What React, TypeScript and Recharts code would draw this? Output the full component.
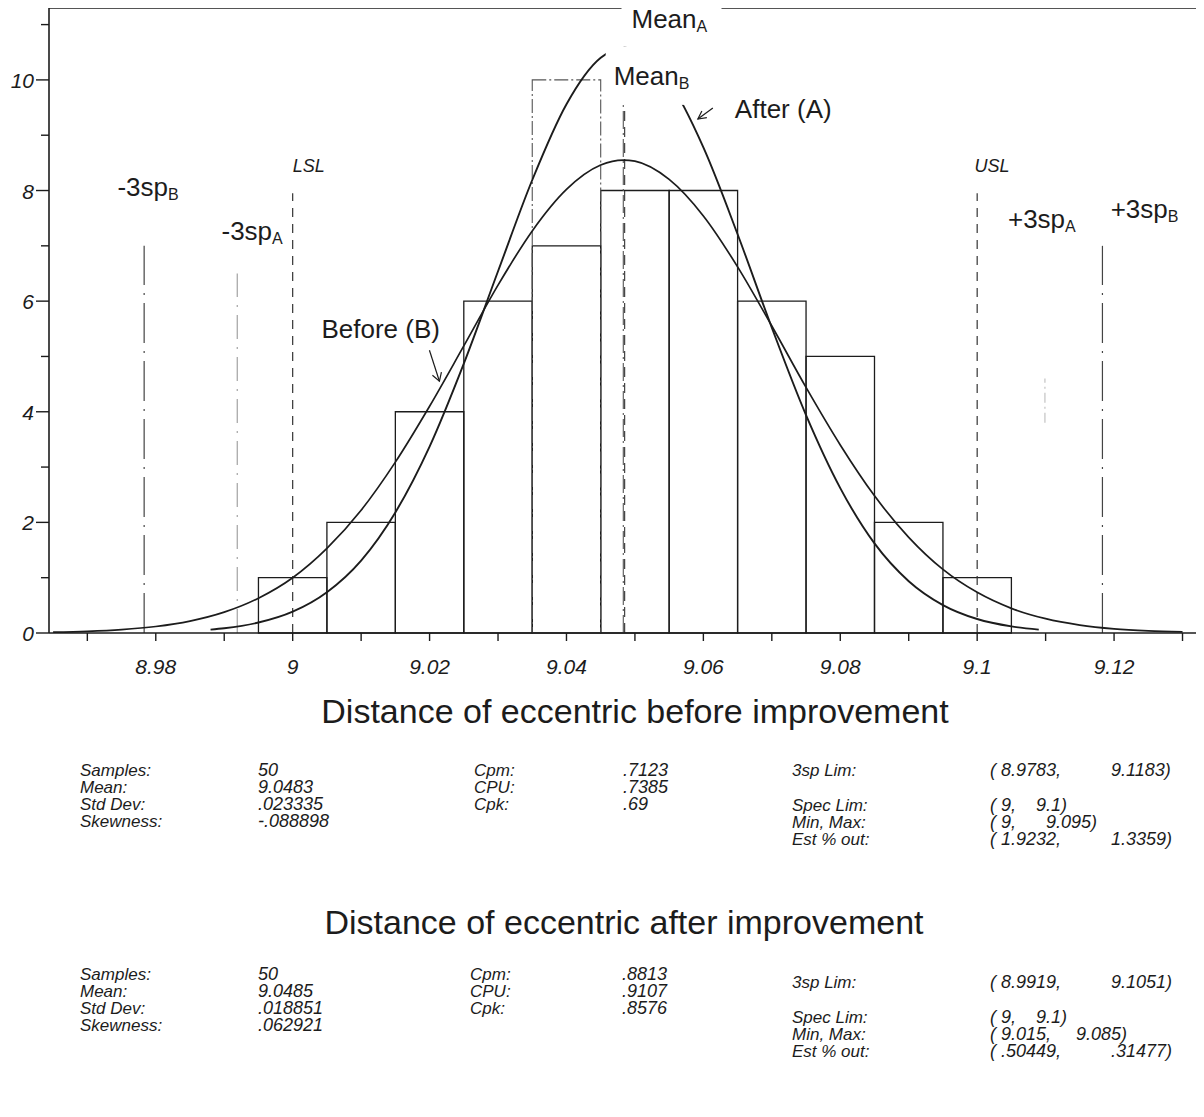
import React from 'react';
import {
  ComposedChart,
  Line,
  XAxis,
  YAxis,
  ReferenceArea,
  ReferenceLine,
  ReferenceDot,
} from 'recharts';

// ---------- data ----------
const X_MIN = 8.9644;
const X_MAX = 9.1327;
const Y_MAX = 11.3;

const xTickValues = [8.97, 8.98, 8.99, 9.0, 9.01, 9.02, 9.03, 9.04, 9.05, 9.06, 9.07, 9.08, 9.09, 9.1, 9.11, 9.12, 9.13];
const xTickLabels = ['', '8.98', '', '9', '', '9.02', '', '9.04', '', '9.06', '', '9.08', '', '9.1', '', '9.12', ''];
const yTickValues = [0, 1, 2, 3, 4, 5, 6, 7, 8, 9, 10, 11];
const yTickLabels = ['0', '', '2', '', '4', '', '6', '', '8', '', '10', ''];

// histogram "before" (B)
const binStartsBefore = [8.995, 9.005, 9.015, 9.025, 9.035, 9.045, 9.055, 9.065, 9.075, 9.085, 9.095];
const countsBefore = [1, 2, 4, 6, 7, 8, 8, 6, 5, 2, 1];
const BIN_WIDTH = 0.01;

// histogram "after" (A): the visible dash-dot bar
const binStartsAfter = [9.035];
const countsAfter = [10];

// fitted curve "before"
const beforeCurveX = [8.965, 8.97, 8.975, 8.98, 8.985, 8.99, 8.995, 9.0, 9.005, 9.01, 9.015, 9.02, 9.025, 9.03, 9.035, 9.04, 9.045, 9.0483, 9.05, 9.055, 9.06, 9.065, 9.07, 9.075, 9.08, 9.085, 9.09, 9.095, 9.1, 9.105, 9.11, 9.115, 9.12, 9.125, 9.13];
const beforeCurveY = [0.015, 0.031, 0.062, 0.118, 0.216, 0.377, 0.63, 1.0, 1.53, 2.22, 3.09, 4.1, 5.19, 6.29, 7.27, 8.02, 8.46, 8.55, 8.53, 8.2, 7.54, 6.62, 5.55, 4.44, 3.4, 2.48, 1.73, 1.15, 0.735, 0.446, 0.259, 0.144, 0.076, 0.039, 0.019];

// fitted curve "after"
const afterCurveX = [8.988, 8.99, 8.995, 9.0, 9.005, 9.01, 9.015, 9.02, 9.025, 9.03, 9.035, 9.04, 9.045, 9.0485, 9.05, 9.055, 9.06, 9.065, 9.07, 9.075, 9.08, 9.085, 9.09, 9.095, 9.1, 9.105, 9.109];
const afterCurveY = [0.061, 0.086, 0.189, 0.386, 0.738, 1.31, 2.18, 3.37, 4.87, 6.54, 8.19, 9.56, 10.4, 10.58, 10.55, 9.97, 8.78, 7.21, 5.52, 3.94, 2.62, 1.62, 0.937, 0.505, 0.253, 0.119, 0.061];

// vertical reference lines
const meanB = 9.0483;
const meanA = 9.0485;
const LSL = 9.0;
const USL = 9.1;
const minus3spB = 8.9783;
const plus3spB = 9.1183;
const minus3spA = 8.9919;
const plus3spA = 9.1099;

// stats tables
const titleBefore = 'Distance of eccentric before improvement';
const titleAfter = 'Distance of eccentric after improvement';
const statsBeforeLeft = [['Samples:', '50'], ['Mean:', '9.0483'], ['Std Dev:', '.023335'], ['Skewness:', '-.088898']];
const statsBeforeMid = [['Cpm:', '.7123'], ['CPU:', '.7385'], ['Cpk:', '.69']];
const statsBeforeLim = ['3sp Lim:', '( 8.9783,', '9.1183)'];
const statsBeforeRight = [['Spec Lim:', '( 9,', '9.1)'], ['Min, Max:', '( 9,', '9.095)'], ['Est % out:', '( 1.9232,', '1.3359)']];
const statsAfterLeft = [['Samples:', '50'], ['Mean:', '9.0485'], ['Std Dev:', '.018851'], ['Skewness:', '.062921']];
const statsAfterMid = [['Cpm:', '.8813'], ['CPU:', '.9107'], ['Cpk:', '.8576']];
const statsAfterLim = ['3sp Lim:', '( 8.9919,', '9.1051)'];
const statsAfterRight = [['Spec Lim:', '( 9,', '9.1)'], ['Min, Max:', '( 9.015,', '9.085)'], ['Est % out:', '( .50449,', '.31477)']];

// ---------- helpers ----------
const beforeCurve = beforeCurveX.map((x, i) => ({ x, y: beforeCurveY[i] }));
const afterCurve = afterCurveX.map((x, i) => ({ x, y: afterCurveY[i] }));

const INK = '#1c1c1c';
const FONT = '"Liberation Sans", Arial, sans-serif';

const XTick = (props: any) => {
  const { x, y, payload } = props;
  const idx = xTickValues.findIndex((v) => Math.abs(v - payload.value) < 1e-6);
  const label = idx >= 0 ? xTickLabels[idx] : '';
  return (
    <g>
      <line x1={x} y1={y} x2={x} y2={y + 8} stroke={INK} strokeWidth={1.4} />
      {label && (
        <text x={x} y={y + 41} textAnchor="middle" fontFamily={FONT} fontStyle="italic" fontSize={21} fill={INK}>
          {label}
        </text>
      )}
    </g>
  );
};

const YTick = (props: any) => {
  const { x, y, payload } = props;
  const idx = yTickValues.findIndex((v) => Math.abs(v - payload.value) < 1e-6);
  const label = idx >= 0 ? yTickLabels[idx] : '';
  const len = label ? 13 : 8;
  return (
    <g>
      <line x1={x - len} y1={y} x2={x} y2={y} stroke={INK} strokeWidth={1.4} />
      {label && (
        <text x={x - 15} y={y + 8} textAnchor="end" fontFamily={FONT} fontStyle="italic" fontSize={21} fill={INK}>
          {label}
        </text>
      )}
    </g>
  );
};

type LabelSpec = {
  x: number;
  y: number;
  main: string;
  sub?: string;
  size?: number;
  italic?: boolean;
  box?: [number, number, number, number];
  arrow?: 'after' | 'before';
};

const labels: LabelSpec[] = [
  { x: 9.0495, y: 10.94, main: 'Mean', sub: 'A', box: [-10, -34, 100, 44] },
  { x: 9.0469, y: 9.91, main: 'Mean', sub: 'B', box: [-8, -38, 96, 58] },
  { x: 9.0646, y: 9.31, main: 'After (A)', arrow: 'after' },
  { x: 9.0042, y: 5.33, main: 'Before (B)', arrow: 'before' },
  { x: 9.0, y: 8.33, main: 'LSL', size: 18, italic: true },
  { x: 9.0996, y: 8.33, main: 'USL', size: 18, italic: true },
  { x: 8.9744, y: 7.9, main: '-3sp', sub: 'B' },
  { x: 8.9896, y: 7.11, main: '-3sp', sub: 'A' },
  { x: 9.1045, y: 7.32, main: '+3sp', sub: 'A' },
  { x: 9.1195, y: 7.5, main: '+3sp', sub: 'B' },
];

const makeShape = (spec: LabelSpec) => (props: any) => {
  const cx = props.cx;
  const cy = props.cy;
  if (cx == null || cy == null) return <g />;
  const size = spec.size ?? 26;
  return (
    <g>
      {spec.box && (
        <rect x={cx + spec.box[0]} y={cy + spec.box[1]} width={spec.box[2]} height={spec.box[3]} fill="#fff" />
      )}
      {spec.main && (
        <text x={cx} y={cy} fontFamily={FONT} fontSize={size} fontStyle={spec.italic ? 'italic' : 'normal'} fill={INK}>
          {spec.main}
          {spec.sub && (
            <tspan fontSize={16} dy={4}>
              {spec.sub}
            </tspan>
          )}
        </text>
      )}
      {spec.arrow === 'after' && (
        <g stroke={INK} strokeWidth={1.2} fill="none">
          <line x1={cx - 22} y1={cy - 10} x2={cx - 37} y2={cy + 1} />
          <polyline points={`${cx - 28},${cy - 0.5} ${cx - 37},${cy + 1} ${cx - 33},${cy - 7}`} />
        </g>
      )}
      {spec.arrow === 'before' && (
        <g stroke={INK} strokeWidth={1.2} fill="none">
          <line x1={cx + 108} y1={cy + 12} x2={cx + 118} y2={cy + 43} />
          <polyline points={`${cx + 111},${cy + 37} ${cx + 118},${cy + 43} ${cx + 120},${cy + 34}`} />
        </g>
      )}
    </g>
  );
};

const seg = (x: number, y0: number, y1: number) => [
  { x, y: y0 },
  { x, y: y1 },
];

const ROW = 17;

const blockStyle = (left: number, top: number, size: number): React.CSSProperties => ({
  position: 'absolute',
  left,
  top,
  fontFamily: FONT,
  fontStyle: 'italic',
  fontSize: size,
  lineHeight: ROW + 'px',
  color: '#1c1c1c',
  whiteSpace: 'pre',
});

// a column of rows rendered as one multi-line text
const TextBlock = ({ lines, left, firstCenter, size }: { lines: string[]; left: number; firstCenter: number; size: number }) => (
  <div style={blockStyle(left, firstCenter - ROW / 2, size)}>{lines.join('\n')}</div>
);

const joinPair = (a: string, b: string, spaces: number) => a + ' '.repeat(spaces) + b;

export default function App() {
  return (
    <div
      style={{
        position: 'relative',
        width: 1204,
        height: 1117,
        margin: -8,
        background: '#fff',
        overflow: 'hidden',
      }}
    >
      <div style={{ position: 'absolute', left: 0, top: 0 }}>
        <ComposedChart width={1204} height={680} margin={{ top: 8, right: 3, bottom: 0, left: 0 }}>
          <XAxis
            dataKey="x"
            type="number"
            domain={[X_MIN, X_MAX]}
            allowDataOverflow
            ticks={xTickValues}
            interval={0}
            height={47}
            tickSize={0}
            tickMargin={0}
            tickLine={false}
            axisLine={{ stroke: INK, strokeWidth: 1.6 }}
            tick={<XTick />}
          />
          <YAxis
            type="number"
            domain={[0, Y_MAX]}
            allowDataOverflow
            ticks={yTickValues}
            interval={0}
            width={49}
            tickSize={0}
            tickMargin={0}
            tickLine={false}
            axisLine={{ stroke: INK, strokeWidth: 1.6 }}
            tick={<YTick />}
          />

          {/* frame */}
          <ReferenceLine y={Y_MAX} stroke={INK} strokeWidth={1.6} />
          <ReferenceLine x={X_MAX} stroke={INK} strokeWidth={1.6} />

          {/* before histogram */}
          {binStartsBefore.map((b, i) => (
            <ReferenceArea
              key={'hb' + i}
              x1={b}
              x2={b + BIN_WIDTH}
              y1={0}
              y2={countsBefore[i]}
              fill="none"
              fillOpacity={0}
              stroke={INK}
              strokeWidth={1.3}
            />
          ))}
          {/* after histogram */}
          {binStartsAfter.map((b, i) => (
            <ReferenceArea
              key={'ha' + i}
              x1={b}
              x2={b + BIN_WIDTH}
              y1={0}
              y2={countsAfter[i]}
              fill="none"
              fillOpacity={0}
              stroke="#555"
              strokeWidth={1.1}
              strokeDasharray="14 3 2 3"
            />
          ))}

          {/* spec & sigma lines */}
          <ReferenceLine segment={seg(LSL, 0, 7.95)} stroke="#333" strokeWidth={1.2} strokeDasharray="9 7" />
          <ReferenceLine segment={seg(USL, 0, 7.95)} stroke="#333" strokeWidth={1.2} strokeDasharray="9 7" />
          <ReferenceLine segment={seg(minus3spB, 0, 7.0)} stroke="#444" strokeWidth={1.2} strokeDasharray="40 8 2 8" />
          <ReferenceLine segment={seg(plus3spB, 0, 7.0)} stroke="#444" strokeWidth={1.2} strokeDasharray="40 8 2 8" />
          <ReferenceLine segment={seg(minus3spA, 0, 6.5)} stroke="#9a9a9a" strokeWidth={1.1} strokeDasharray="24 8 2 8" />
          <ReferenceLine segment={seg(plus3spA, 3.8, 4.6)} stroke="#bdbdbd" strokeWidth={1.1} strokeDasharray="10 4 2 4" />
          <ReferenceLine segment={seg(meanB, 0, 9.55)} stroke="#555" strokeWidth={1.1} strokeDasharray="18 4 2 4" />
          <ReferenceLine segment={seg(meanA, 0, 9.55)} stroke="#333" strokeWidth={1.1} strokeDasharray="10 6" />

          {/* fitted curves */}
          <Line data={beforeCurve} dataKey="y" type="monotone" dot={false} stroke={INK} strokeWidth={1.7} isAnimationActive={false} />
          <Line data={afterCurve} dataKey="y" type="monotone" dot={false} stroke={INK} strokeWidth={1.9} isAnimationActive={false} />

          {/* annotations */}
          {labels.map((l, i) => (
            <ReferenceDot
              key={'lb' + i}
              x={l.x}
              y={l.y}
              r={1}
              fill="none"
              stroke="none"
              ifOverflow="visible"
              shape={makeShape(l)}
            />
          ))}
        </ComposedChart>
      </div>

      {/* ----- before block ----- */}
      <div
        style={{
          position: 'absolute',
          left: 0,
          width: 1270,
          top: 691,
          textAlign: 'center',
          fontFamily: FONT,
          fontSize: 34,
          lineHeight: '40px',
          color: '#1c1c1c',
        }}
      >
        {titleBefore}
      </div>
      <TextBlock lines={statsBeforeLeft.map((r) => r[0])} left={80} firstCenter={770} size={17} />
      <TextBlock lines={statsBeforeLeft.map((r) => r[1])} left={258} firstCenter={770} size={18} />
      <TextBlock lines={statsBeforeMid.map((r) => r[0])} left={474} firstCenter={770} size={17} />
      <TextBlock lines={statsBeforeMid.map((r) => r[1])} left={623} firstCenter={770} size={18} />
      <TextBlock lines={[statsBeforeLim[0]]} left={792} firstCenter={770} size={17} />
      <TextBlock lines={[joinPair(statsBeforeLim[1], statsBeforeLim[2], 10)]} left={990} firstCenter={770} size={18} />
      <TextBlock lines={statsBeforeRight.map((r) => r[0])} left={792} firstCenter={805} size={17} />
      <TextBlock
        lines={statsBeforeRight.map((r, i) => joinPair(r[1], r[2], [4, 6, 10][i]))}
        left={990}
        firstCenter={805}
        size={18}
      />

      {/* ----- after block ----- */}
      <div
        style={{
          position: 'absolute',
          left: 0,
          width: 1248,
          top: 902,
          textAlign: 'center',
          fontFamily: FONT,
          fontSize: 34,
          lineHeight: '40px',
          color: '#1c1c1c',
        }}
      >
        {titleAfter}
      </div>
      <TextBlock lines={statsAfterLeft.map((r) => r[0])} left={80} firstCenter={974} size={17} />
      <TextBlock lines={statsAfterLeft.map((r) => r[1])} left={258} firstCenter={974} size={18} />
      <TextBlock lines={statsAfterMid.map((r) => r[0])} left={470} firstCenter={974} size={17} />
      <TextBlock lines={statsAfterMid.map((r) => r[1])} left={622} firstCenter={974} size={18} />
      <TextBlock lines={[statsAfterLim[0]]} left={792} firstCenter={982} size={17} />
      <TextBlock lines={[joinPair(statsAfterLim[1], statsAfterLim[2], 10)]} left={990} firstCenter={982} size={18} />
      <TextBlock lines={statsAfterRight.map((r) => r[0])} left={792} firstCenter={1017} size={17} />
      <TextBlock
        lines={statsAfterRight.map((r, i) => joinPair(r[1], r[2], [4, 5, 10][i]))}
        left={990}
        firstCenter={1017}
        size={18}
      />
    </div>
  );
}
